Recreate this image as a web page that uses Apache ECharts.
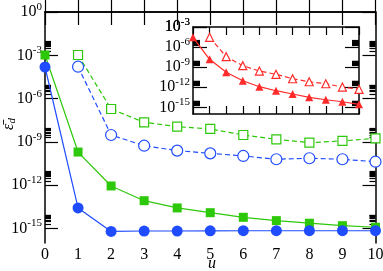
<!DOCTYPE html>
<html><head><meta charset="utf-8">
<script src="https://cdn.jsdelivr.net/npm/echarts@6/dist/echarts.min.js"></script>
<style>html,body{margin:0;padding:0;background:#fff}#c{width:383px;height:271px}</style>
</head><body><div id="c"></div>
<script>
// log10 of values
const uAll = [0,1,2,3,4,5,6,7,8,9,10];
const uOpen = [1,2,3,4,5,6,7,8,9,10];
const blueFilled = [-3.81, -13.57, -15.2, -15.17, -15.17, -15.16, -15.15, -15.15, -15.15, -15.15, -15.15];
const greenFilled = [-2.98, -9.7, -12.05, -13.07, -13.57, -13.9, -14.22, -14.45, -14.63, -14.8, -14.91];
const greenOpen = [-2.98, -6.72, -7.64, -7.94, -8.1, -8.52, -8.82, -9.05, -8.93, -8.75];
const blueOpen = [-3.79, -8.52, -9.26, -9.6, -9.79, -9.97, -10.2, -10.13, -10.2, -10.37];
const redFilled = [-4.54, -7.83, -9.77, -11.03, -11.92, -12.52, -13.01, -13.51, -13.87, -14.17, -14.55];
const redOpen = [-4.54, -7.44, -8.78, -9.58, -10.07, -10.73, -11.18, -11.48, -11.97, -12.31];
const mainMajor = [0,-3,-6,-9,-12,-15];
const insetMajor = [-3,-6,-9,-12,-15];
const xTickLabels = ['0','1','2','3','4','5','6','7','8','9','10'];

function minors(majors, lo, hi){
  const out=[];
  majors.forEach(m=>{ for(let k=2;k<=9;k++){ const v=m+Math.log10(k); if(v>lo&&v<hi) out.push(v);} });
  return out;
}
const pair=(xs,ys)=>ys.map((y,i)=>[xs[i],y]);
const font='Liberation Serif';
const blue='#1f4cff', green='#2ec80a', red='#ff2a2a';
const fmt=v=>'{b|10}{s|'+(v===0?'0':String(v))+'}';
const rich={b:{fontFamily:font,fontSize:16,color:'#000'},s:{fontFamily:font,fontSize:11,color:'#000',padding:[0,0,10,0]}};
const line={show:true,lineStyle:{color:'#000',width:1.5}};

function xAx(grid,pos,len,labels){
  return {type:'value',gridIndex:grid,position:pos,min:0,max:10,interval:1,
    axisLine:line,splitLine:{show:false},
    axisTick:{show:true,inside:true,length:len,lineStyle:{color:'#000',width:1.2}},
    axisLabel:{show:labels,margin:4,fontFamily:font,fontSize:16,color:'#000',formatter:v=>xTickLabels[v]}};
}
function yAx(grid,pos,min,max,vals,len,labels,showLine,extra){
  return Object.assign({type:'value',gridIndex:grid,position:pos,min:min,max:max,interval:1,
    axisLine:showLine?line:{show:false},splitLine:{show:false},
    axisTick:{show:true,inside:true,length:len,customValues:vals,lineStyle:{color:'#000',width:1.2}},
    axisLabel:labels?{show:true,customValues:vals,margin:3,formatter:fmt,rich:rich}:{show:false}},extra||{});
}
const mainMinor=minors(mainMajor,-16,0);
const insetMinor=minors(insetMajor,-16,-3);

const chart=echarts.init(document.getElementById('c'),null,{renderer:'canvas'});
chart.setOption({
  animation:false,
  backgroundColor:'#fff',
  grid:[
    {left:45,top:12,right:7.5,bottom:28,show:false,containLabel:false,outerBoundsMode:'none'},
    {left:193,top:27,right:24,bottom:157,show:true,backgroundColor:'#fff',borderWidth:0,z:5,containLabel:false,outerBoundsMode:'none'}
  ],
  graphic:[
    {type:'text',x:212,y:264,z:10,style:{text:'u',font:'italic 16px "Liberation Serif"',fill:'#000',align:'center',verticalAlign:'middle'}},
    {type:'text',x:9,y:124,rotation:Math.PI/2,z:10,style:{text:'{e|ε̄}{d|d}',align:'center',verticalAlign:'middle',
      rich:{e:{fontFamily:font,fontSize:16,fontStyle:'italic',fill:'#000'},d:{fontFamily:font,fontSize:11,fontStyle:'italic',fill:'#000',padding:[6,0,0,0]}}}}
  ],
  xAxis:[
    xAx(0,'bottom',13,true),
    xAx(0,'top',13,false),
    Object.assign(xAx(1,'bottom',8,false),{z:6}),
    Object.assign(xAx(1,'top',8,false),{z:6})
  ],
  yAxis:[
    yAx(0,'left',-16,0,mainMajor,13,true,true),
    yAx(0,'left',-16,0,mainMinor,6,false,false),
    yAx(0,'right',-16,0,mainMajor,13,false,true),
    yAx(0,'right',-16,0,mainMinor,6,false,false),
    Object.assign(yAx(1,'left',-16,-3,insetMajor.concat([-3]),14,true,true),{z:6}),
    Object.assign(yAx(1,'left',-16,-3,insetMinor,7,false,false),{z:6}),
    Object.assign(yAx(1,'right',-16,-3,insetMajor,14,false,true),{z:6}),
    Object.assign(yAx(1,'right',-16,-3,insetMinor,7,false,false),{z:6})
  ],
  series:[
    {type:'line',xAxisIndex:0,yAxisIndex:0,data:pair(uOpen,greenOpen),symbol:'rect',symbolSize:9,
      itemStyle:{color:'#fff',borderColor:green,borderWidth:1.2},lineStyle:{color:green,width:1.2,type:[5,3]}},
    {type:'line',xAxisIndex:0,yAxisIndex:0,data:pair(uOpen,blueOpen),symbol:'circle',symbolSize:11,
      itemStyle:{color:'#fff',borderColor:blue,borderWidth:1.2},lineStyle:{color:blue,width:1.2,type:[5,3]}},
    {type:'line',xAxisIndex:0,yAxisIndex:0,data:pair(uAll,greenFilled),symbol:'rect',symbolSize:9,
      itemStyle:{color:green},lineStyle:{color:green,width:1.2}},
    {type:'line',xAxisIndex:0,yAxisIndex:0,data:pair(uAll,blueFilled),symbol:'circle',symbolSize:11,
      itemStyle:{color:blue},lineStyle:{color:blue,width:1.2}},
    {type:'line',xAxisIndex:2,yAxisIndex:4,data:pair(uOpen,redOpen),symbol:'triangle',symbolSize:8,z:7,
      itemStyle:{color:'#fff',borderColor:red,borderWidth:1.2},lineStyle:{color:red,width:1.2,type:[5,3]}},
    {type:'line',xAxisIndex:2,yAxisIndex:4,data:pair(uAll,redFilled),symbol:'triangle',symbolSize:8,z:7,
      itemStyle:{color:red},lineStyle:{color:red,width:1.2}}
  ]
});
</script></body></html>
